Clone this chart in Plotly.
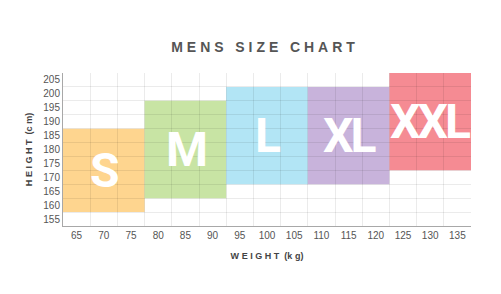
import plotly.graph_objects as go

# ---- data ----
sizes = ["S", "M", "L", "XL", "XXL"]
weight_min = [62.5, 77.5, 92.5, 107.5, 122.5]
weight_max = [77.5, 92.5, 107.5, 122.5, 137.5]
height_min = [157.5, 162.5, 167.5, 167.5, 172.5]
height_max = [187.5, 197.5, 202.5, 202.5, 207.5]
colors = ["#FED58F", "#C8E4A4", "#B2E5F5", "#C8B3DB", "#F58B93"]

weight_ticks = [65, 70, 75, 80, 85, 90, 95, 100, 105, 110, 115, 120, 125, 130, 135]
height_ticks = [155, 160, 165, 170, 175, 180, 185, 190, 195, 200, 205]

step = 5
x_range = [weight_ticks[0] - step / 2, weight_ticks[-1] + step / 2]
y_range = [height_ticks[0] - step / 2, height_ticks[-1] + step / 2]
x_grid = [t + step / 2 for t in [x_range[0] - step / 2] + weight_ticks]
y_grid = [t + step / 2 for t in [y_range[0] - step / 2] + height_ticks]

def spaced(s, sep="\u2009\u200a"):
    return sep.join(list(s))

fig = go.Figure()

for i, name in enumerate(sizes):
    fig.add_shape(type="rect", xref="x", yref="y", layer="below",
                  x0=weight_min[i], x1=weight_max[i], y0=height_min[i], y1=height_max[i],
                  fillcolor=colors[i], line=dict(width=0))

for i, name in enumerate(sizes):
    fig.add_annotation(x=(weight_min[i] + weight_max[i]) / 2, y=(height_min[i] + height_max[i]) / 2,
                       text='<span style="letter-spacing:-3px">' + name + '</span>', showarrow=False,
                       font=dict(family="Roboto, sans-serif", size=48, color="white", weight="bold"))

grid_col = "rgba(0,0,0,0.08)"
tick_font = dict(family="Liberation Sans, Arial, sans-serif", size=10, color="#555555")
lab_font = dict(family="Liberation Sans, Arial, sans-serif", size=9, color="#444444", weight="bold")

fig.update_xaxes(range=x_range, tickvals=weight_ticks, ticktext=[str(t) for t in weight_ticks],
                 showgrid=False, zeroline=False, showline=True, linecolor="#a8a8a8", linewidth=1,
                 ticks="", tickfont=tick_font, fixedrange=True,
                 minor=dict(tickvals=x_grid, showgrid=True, gridcolor=grid_col, gridwidth=1, ticks=""),
                 title=dict(text=spaced("WEIGHT") + "  (" + spaced("kg") + ")",
                            font=lab_font, standoff=12))
fig.update_yaxes(range=y_range, tickvals=height_ticks, ticktext=[str(t) for t in height_ticks],
                 showgrid=False, zeroline=False, showline=True, linecolor="#a8a8a8", linewidth=1,
                 ticks="", tickfont=tick_font, fixedrange=True,
                 minor=dict(tickvals=y_grid, showgrid=True, gridcolor=grid_col, gridwidth=1, ticks=""),
                 title=dict(text=spaced("HEIGHT") + "  (" + spaced("cm") + ")",
                            font=lab_font, standoff=9))

fig.update_layout(
    width=501, height=294,
    margin=dict(l=63, r=30, t=73, b=68),
    paper_bgcolor="white", plot_bgcolor="white",
    title=dict(text=spaced("MENS") + "   " + spaced("SIZE") + "   " + spaced("CHART"),
               x=0.525, xanchor="center", y=1 - 47 / 294, yanchor="middle",
               font=dict(family="Liberation Sans, Arial, sans-serif", size=14,
                         color="#555555", weight="bold")),
    showlegend=False,
)

fig.write_html("out.html")
